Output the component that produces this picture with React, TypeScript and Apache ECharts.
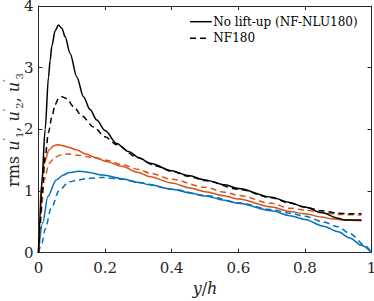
import React, { useEffect, useRef } from "react";
import * as echarts from "echarts";

// u'1 — No lift-up (black solid)
const u1NluX = [0, 0.005, 0.01, 0.02, 0.03, 0.035, 0.04, 0.05, 0.06, 0.07, 0.08, 0.095, 0.115, 0.135, 0.155, 0.175, 0.2, 0.235, 0.27, 0.305, 0.335, 0.4, 0.45, 0.5, 0.56, 0.6, 0.7, 0.75, 0.8, 0.85, 0.9, 0.92, 0.97];
const u1NluY = [0, 0.6, 1.15, 2.0, 2.85, 3.12, 3.35, 3.6, 3.69, 3.64, 3.5, 3.23, 2.85, 2.53, 2.32, 2.15, 1.98, 1.77, 1.64, 1.53, 1.45, 1.33, 1.25, 1.18, 1.1, 1.04, 0.9, 0.82, 0.74, 0.65, 0.56, 0.53, 0.53];
// u'1 — NF180 (black dashed)
const u1NfX = [0, 0.005, 0.01, 0.02, 0.03, 0.04, 0.05, 0.06, 0.07, 0.085, 0.105, 0.13, 0.165, 0.2, 0.235, 0.295, 0.35, 0.4, 0.45, 0.5, 0.6, 0.7, 0.75, 0.8, 0.85, 0.9, 0.93, 0.97];
const u1NfY = [0, 0.45, 0.9, 1.55, 1.95, 2.2, 2.4, 2.5, 2.53, 2.5, 2.37, 2.22, 2.04, 1.88, 1.75, 1.55, 1.41, 1.32, 1.24, 1.17, 1.03, 0.89, 0.81, 0.74, 0.68, 0.64, 0.63, 0.63];
// u'3 — No lift-up (orange solid)
const u3NluX = [0, 0.0025, 0.0075, 0.017, 0.032, 0.045, 0.055, 0.07, 0.09, 0.113, 0.143, 0.173, 0.203, 0.25, 0.3, 0.335, 0.4, 0.455, 0.5, 0.56, 0.6, 0.7, 0.755, 0.8, 0.85, 0.88, 0.92, 0.97];
const u3NluY = [0, 0.48, 1.02, 1.45, 1.67, 1.73, 1.75, 1.74, 1.71, 1.67, 1.6, 1.54, 1.48, 1.4, 1.3, 1.23, 1.13, 1.05, 0.99, 0.92, 0.87, 0.74, 0.67, 0.63, 0.58, 0.55, 0.53, 0.52];
// u'3 — NF180 (orange dashed)
const u3NfX = [0, 0.0075, 0.017, 0.032, 0.05, 0.07, 0.09, 0.12, 0.143, 0.173, 0.203, 0.25, 0.3, 0.335, 0.4, 0.5, 0.56, 0.6, 0.7, 0.755, 0.8, 0.85, 0.9, 0.97];
const u3NfY = [0, 0.64, 1.18, 1.45, 1.55, 1.59, 1.6, 1.58, 1.56, 1.53, 1.5, 1.43, 1.35, 1.29, 1.19, 1.06, 0.98, 0.93, 0.8, 0.72, 0.69, 0.65, 0.62, 0.61];
// u'2 — No lift-up (blue solid)
const u2NluX = [0, 0.0125, 0.028, 0.053, 0.075, 0.092, 0.12, 0.143, 0.193, 0.25, 0.3, 0.335, 0.4, 0.455, 0.5, 0.56, 0.6, 0.7, 0.755, 0.8, 0.855, 0.9, 0.935, 0.97, 1.0];
const u2NluY = [0, 0.48, 0.91, 1.18, 1.26, 1.3, 1.32, 1.31, 1.26, 1.2, 1.14, 1.1, 1.03, 0.97, 0.92, 0.85, 0.8, 0.68, 0.6, 0.54, 0.43, 0.34, 0.24, 0.12, 0];
// u'2 — NF180 (blue dashed)
const u2NfX = [0, 0.01, 0.02, 0.038, 0.063, 0.092, 0.12, 0.143, 0.193, 0.25, 0.3, 0.4, 0.5, 0.6, 0.7, 0.755, 0.8, 0.855, 0.9, 0.935, 0.98, 1.0];
const u2NfY = [0, 0.15, 0.38, 0.72, 1.02, 1.15, 1.18, 1.2, 1.22, 1.19, 1.14, 1.03, 0.93, 0.81, 0.7, 0.64, 0.59, 0.5, 0.42, 0.31, 0.12, 0];

const xTicks = [0, 0.2, 0.4, 0.6, 0.8, 1];
const yTicks = [0, 1, 2, 3, 4];

const legendNames = ["No lift-up (NF-NLU180)", "NF180"];

const BLACK = "#000000";
const ORANGE = "#D95319";
const BLUE = "#0072BD";
const AXIS = "#262626";
const FONT = "DejaVu Serif";
const DASH = [6, 4];

const zip = (xs: number[], ys: number[]) => xs.map((x, i) => [x, ys[i]]);

export default function App() {
  const ref = useRef<HTMLDivElement>(null);
  useEffect(() => {
    if (!ref.current) return;
    const chart = echarts.init(ref.current, undefined, { renderer: "svg" });
    const line = (name: string, xs: number[], ys: number[], color: string, dashed: boolean, z: number) => ({
      name,
      type: "line",
      data: zip(xs, ys),
      showSymbol: false,
      symbol: "none",
      smooth: 0.3,
      smoothMonotone: "x",
      z,
      lineStyle: { color, width: 1.5, type: dashed ? DASH : "solid" },
      itemStyle: { color },
    });
    const axisCommon = {
      axisLine: { show: true, onZero: false, lineStyle: { color: AXIS, width: 1 } },
      axisTick: { show: true, inside: true, length: 4, lineStyle: { color: AXIS, width: 1 } },
      splitLine: { show: false },
    };
    const legendRows = [
      { y: 21.7, len: 21.7, dashed: false },
      { y: 38.3, len: 18, dashed: true },
    ];
    const legendGraphics = legendRows.flatMap((r, i) => [
      {
        type: "line",
        shape: { x1: 190, y1: r.y, x2: 190 + r.len, y2: r.y },
        style: { stroke: BLACK, lineWidth: 1.5, lineDash: r.dashed ? DASH : null },
        silent: true,
      },
      {
        type: "text",
        x: 213.3,
        y: r.y,
        style: {
          text: legendNames[i],
          fontFamily: FONT,
          fontSize: 12,
          fill: BLACK,
          verticalAlign: "middle",
          align: "left",
        },
        silent: true,
      },
    ]);
    const yTitle = {
      type: "text",
      x: 13,
      y: 130,
      rotation: Math.PI / 2,
      silent: true,
      style: {
        text: "{n|rms }{i|u}{p|′}{s|1}{n|, }{i|u}{p|′}{s|2}{n|, }{i|u}{p|′}{s|3}",
        align: "center",
        verticalAlign: "middle",
        fontFamily: FONT,
        fontSize: 16,
        fill: AXIS,
        rich: {
          n: { fontFamily: FONT, fontSize: 16, fill: AXIS, lineHeight: 22, verticalAlign: "middle" },
          i: { fontFamily: FONT, fontSize: 16, fontStyle: "italic", fill: AXIS, lineHeight: 22, verticalAlign: "middle" },
          p: { fontFamily: FONT, fontSize: 11, fill: AXIS, verticalAlign: "top", lineHeight: 22 },
          s: { fontFamily: FONT, fontSize: 10, fill: AXIS, verticalAlign: "bottom", lineHeight: 22 },
        },
      },
    };
    chart.setOption({
      animation: false,
      backgroundColor: "#ffffff",
      grid: { left: 38.5, right: 2.5, top: 6, bottom: 48.3, containLabel: false, outerBoundsMode: "none" },
      graphic: [...legendGraphics, yTitle],
      xAxis: [
        {
          type: "value",
          min: 0,
          max: 1,
          interval: 0.2,
          position: "bottom",
          ...axisCommon,
          axisLabel: {
            fontFamily: FONT,
            fontSize: 15,
            color: AXIS,
            margin: 8,
            formatter: (v: number) => String(xTicks.find((t) => Math.abs(t - v) < 1e-9) ?? v),
          },
          name: "{i|y}{n|/}{i|h}",
          nameLocation: "middle",
          nameGap: 19,
          nameTextStyle: {
            fontFamily: FONT,
            fontSize: 16,
            color: AXIS,
            rich: {
              i: { fontFamily: FONT, fontSize: 16, fontStyle: "italic", color: AXIS },
              n: { fontFamily: FONT, fontSize: 16, color: AXIS },
            },
          },
        },
        {
          type: "value",
          min: 0,
          max: 1,
          interval: 0.2,
          position: "top",
          ...axisCommon,
          axisLabel: { show: false },
        },
      ],
      yAxis: [
        {
          type: "value",
          min: 0,
          max: 4,
          interval: 1,
          position: "left",
          ...axisCommon,
          axisLabel: {
            fontFamily: FONT,
            fontSize: 15,
            color: AXIS,
            margin: 5,
            formatter: (v: number) => String(yTicks.find((t) => Math.abs(t - v) < 1e-9) ?? v),
          },
        },
        {
          type: "value",
          min: 0,
          max: 4,
          interval: 1,
          position: "right",
          ...axisCommon,
          axisLabel: { show: false },
        },
      ],
      series: [
        line("u2 NF180", u2NfX, u2NfY, BLUE, true, 2),
        line("u2 NLU", u2NluX, u2NluY, BLUE, false, 2),
        line("u3 NF180", u3NfX, u3NfY, ORANGE, true, 3),
        line("u3 NLU", u3NluX, u3NluY, ORANGE, false, 3),
        line(legendNames[1], u1NfX, u1NfY, BLACK, true, 4),
        line(legendNames[0], u1NluX, u1NluY, BLACK, false, 4),
      ],
    });
    return () => chart.dispose();
  }, []);
  return <div ref={ref} style={{ width: 374, height: 301, position: "absolute", left: 0, top: 0 }} />;
}
